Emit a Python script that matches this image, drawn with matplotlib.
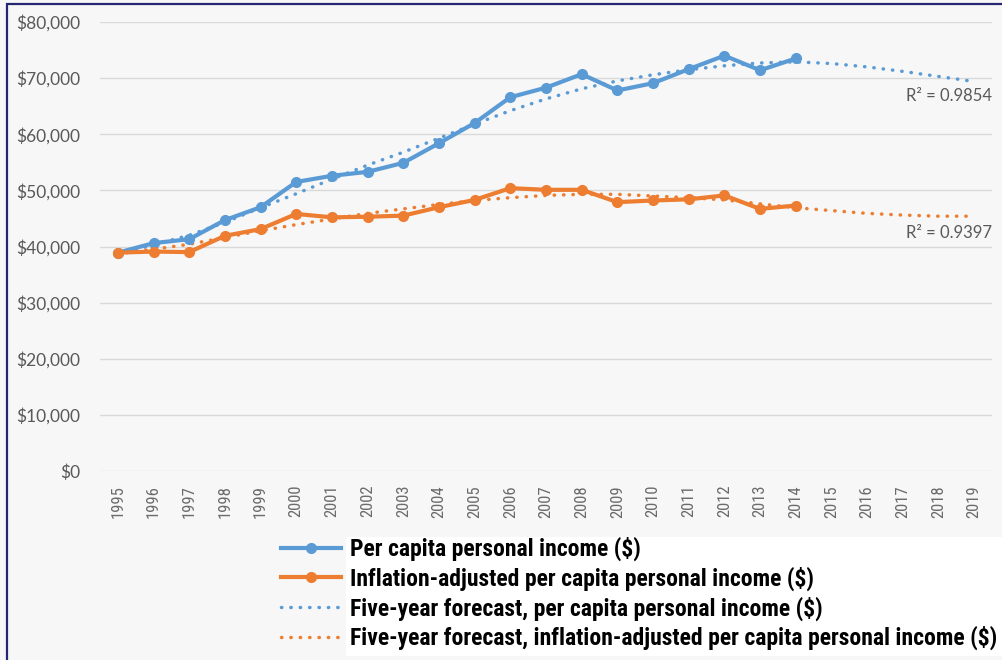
import numpy as np
import matplotlib
matplotlib.use("Agg")
import matplotlib.pyplot as plt
from matplotlib.patches import Rectangle
from matplotlib.lines import Line2D
from matplotlib.ticker import StrMethodFormatter

# ---- data ----
years = list(range(1995, 2020))
actual_years = list(range(1995, 2015))
per_capita = [38900, 40600, 41300, 44700, 47000, 51500, 52600, 53300, 54900, 58400,
              62000, 66600, 68300, 70700, 67800, 69100, 71600, 74000, 71400, 73500]
inflation_adj = [38900, 39100, 39000, 41900, 43100, 45800, 45200, 45300, 45500, 47000,
                 48300, 50400, 50100, 50100, 47900, 48200, 48400, 49100, 46700, 47300]
# polynomial trendlines with five-year forecast (1995-2019)
trend_per_capita = [38600, 40300, 42000, 44300, 46900, 49400, 52000, 54500, 56800, 59300,
                    61800, 64200, 66300, 68100, 69500, 70600, 71500, 72200, 72700, 72900,
                    72600, 72000, 71200, 70300, 69400]
trend_inflation_adj = [38700, 39500, 40400, 41600, 42800, 43900, 44900, 45900, 46700, 47500,
                       48200, 48700, 49100, 49300, 49300, 49000, 48700, 48300, 47600, 46900,
                       46400, 45900, 45600, 45400, 45400]
r2_labels = ["R\u00b2 = 0.9854", "R\u00b2 = 0.9397"]
series_labels = ["Per capita personal income ($)",
                 "Inflation-adjusted per capita personal income ($)",
                 "Five-year forecast, per capita personal income ($)",
                 "Five-year forecast, inflation-adjusted per capita personal income ($)"]

BLUE = "#5B9BD5"
ORANGE = "#ED7D31"
GRAY = "#595959"
BG = "#F7F7F7"
COND = ["Roboto Condensed", "DejaVu Sans"]

W, H = 1002, 660
fig = plt.figure(figsize=(W / 100, H / 100), dpi=100, facecolor=BG)
ax = fig.add_axes([100 / W, 1 - 471 / H, 892 / W, 449 / H])
ax.set_facecolor(BG)

x_all = np.arange(len(years))
x_act = np.arange(len(actual_years))

dot = (0, (0.1, 2.6))
ax.plot(x_all, trend_per_capita, color=BLUE, lw=2.5, linestyle=dot,
        dash_capstyle="round", zorder=3)
ax.plot(x_all, trend_inflation_adj, color=ORANGE, lw=2.5, linestyle=dot,
        dash_capstyle="round", zorder=3)
ax.plot(x_act, per_capita, color=BLUE, lw=3, marker="o", ms=7, zorder=4)
ax.plot(x_act, inflation_adj, color=ORANGE, lw=3, marker="o", ms=7, zorder=4)

ax.set_xlim(-0.5, len(years) - 0.5)
ax.set_ylim(0, 80000)
ax.set_yticks(np.arange(0, 80001, 10000))
ax.yaxis.set_major_formatter(StrMethodFormatter("${x:,.0f}"))
ax.set_xticks(x_all)
ax.set_xticklabels([str(y) for y in years], rotation=90, fontsize=12,
                   color="#6B6B6B")
for lab in ax.get_xticklabels():
    lab.set_family(COND)
    lab.set_stretch("condensed")
for lab in ax.get_yticklabels():
    lab.set_family(["Lato", "DejaVu Sans"])
    lab.set_fontsize(12.5)
    lab.set_color(GRAY)
ax.tick_params(axis="y", length=0, pad=14)
ax.tick_params(axis="x", length=0, pad=10)
ax.grid(axis="y", color="#D9D9D9", lw=1)
ax.set_axisbelow(True)
for s in ax.spines.values():
    s.set_visible(False)

ax.text(len(years) - 0.5, 66800, r2_labels[0], ha="right", va="center",
        color=GRAY, fontsize=12, family=["Lato", "DejaVu Sans"])
ax.text(len(years) - 0.5, 42400, r2_labels[1], ha="right", va="center",
        color=GRAY, fontsize=12, family=["Lato", "DejaVu Sans"])

# white box behind legend text
fig.patches.append(Rectangle((346 / W, 4 / H), 1 - 346 / W, (656 - 537) / H,
                             transform=fig.transFigure, facecolor="white",
                             edgecolor="none", zorder=1))
# navy border
fig.patches.append(Rectangle((6.5 / W, -0.05), 1.1, 1 - 3.5 / H + 0.05,
                             transform=fig.transFigure, facecolor="none",
                             edgecolor="#262673", lw=1.6, zorder=10))

handles = [Line2D([], [], color=BLUE, lw=3, marker="o", ms=7),
           Line2D([], [], color=ORANGE, lw=3, marker="o", ms=7),
           Line2D([], [], color=BLUE, lw=2.5, linestyle=dot, dash_capstyle="round"),
           Line2D([], [], color=ORANGE, lw=2.5, linestyle=dot, dash_capstyle="round")]
leg = fig.legend(handles, series_labels, loc="upper left",
                 bbox_to_anchor=(281 / W, 1 - 537 / H), frameon=False,
                 prop={"family": COND, "size": 17, "stretch": "condensed",
                       "weight": "semibold"},
                 handlelength=2.55, handletextpad=0.38, labelspacing=0.22,
                 borderpad=0, borderaxespad=0)
leg.set_zorder(5)

fig.savefig("out.png", dpi=100, facecolor=BG)
